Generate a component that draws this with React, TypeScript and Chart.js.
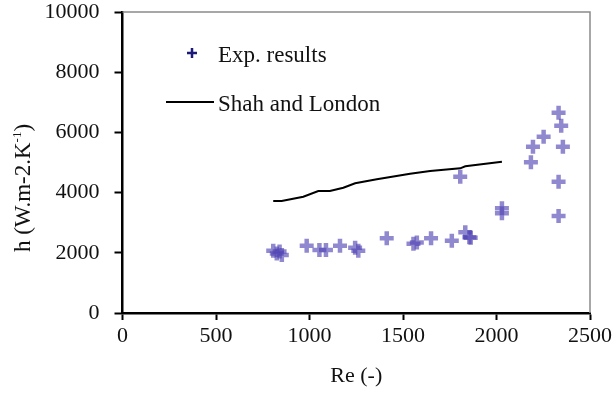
import React, { useEffect, useRef } from "react";
import { Chart, registerables } from "chart.js";

Chart.register(...registerables);

// Experimental results (Re, h)
const expRe = [806, 825, 840, 852, 985, 1053, 1088, 1163, 1244, 1261, 1413, 1556, 1574, 1650, 1761, 1806, 1833, 1855, 1862, 2029, 2029, 2184, 2195, 2252, 2332, 2346, 2355, 2332, 2332];
const expH = [2070, 1980, 2040, 1930, 2236, 2093, 2093, 2236, 2170, 2070, 2481, 2300, 2340, 2481, 2402, 4529, 2680, 2520, 2500, 3478, 3312, 5006, 5525, 5857, 6655, 6223, 5525, 4362, 3223];

// Shah and London correlation
const lineRe = [806, 851, 967, 1047, 1109, 1181, 1244, 1360, 1538, 1645, 1806, 1833, 2029];
const lineH = [3721, 3721, 3864, 4053, 4053, 4163, 4308, 4441, 4629, 4718, 4807, 4873, 5027];

const xTicks = [0, 500, 1000, 1500, 2000, 2500];
const yTicks = [0, 2000, 4000, 6000, 8000, 10000];

const seriesLabels = ["Exp. results", "Shah and London"];
const xTitle = "Re (-)";

const FONT = "'Liberation Serif', 'Times New Roman', serif";

export default function App() {
  const ref = useRef<HTMLCanvasElement | null>(null);

  useEffect(() => {
    if (!ref.current) return;

    const decor = {
      id: "decor",
      afterDraw(chart: any) {
        const { ctx, chartArea } = chart;
        const { left, right, top, bottom } = chartArea;
        ctx.save();
        // frame top/right
        ctx.strokeStyle = "#8a8a8a";
        ctx.lineWidth = 1.5;
        ctx.beginPath();
        ctx.moveTo(left, top);
        ctx.lineTo(right, top);
        ctx.lineTo(right, bottom);
        ctx.stroke();

        // legend
        ctx.fillStyle = "#111";
        ctx.font = `23px ${FONT}`;
        ctx.textBaseline = "middle";
        ctx.textAlign = "left";
        // plus marker
        ctx.strokeStyle = "#1c1a78";
        ctx.lineWidth = 2.5;
        ctx.beginPath();
        ctx.moveTo(187, 53);
        ctx.lineTo(197, 53);
        ctx.moveTo(192, 48);
        ctx.lineTo(192, 58);
        ctx.stroke();
        ctx.fillText(seriesLabels[0], 218, 56);
        // line marker
        ctx.strokeStyle = "#000";
        ctx.lineWidth = 2;
        ctx.beginPath();
        ctx.moveTo(166, 102);
        ctx.lineTo(214, 102);
        ctx.stroke();
        ctx.fillText(seriesLabels[1], 218, 105);

        // y title with superscript
        ctx.translate(23, 188);
        ctx.rotate(-Math.PI / 2);
        const main = "h (W.m-2.K";
        const sup = "-1";
        const end = ")";
        ctx.font = `23px ${FONT}`;
        const w1 = ctx.measureText(main).width;
        const w3 = ctx.measureText(end).width;
        ctx.font = `13px ${FONT}`;
        const w2 = ctx.measureText(sup).width;
        const total = w1 + w2 + w3;
        let x = -total / 2;
        ctx.fillStyle = "#111";
        ctx.font = `23px ${FONT}`;
        ctx.fillText(main, x, 1);
        x += w1;
        ctx.font = `13px ${FONT}`;
        ctx.fillText(sup, x, -5);
        x += w2;
        ctx.font = `23px ${FONT}`;
        ctx.fillText(end, x, 1);
        ctx.restore();
      },
    };

    const chart = new Chart(ref.current, {
      type: "scatter",
      data: {
        datasets: [
          {
            label: seriesLabels[0],
            data: expRe.map((r, i) => ({ x: r, y: expH[i] })),
            pointStyle: "cross",
            pointRadius: 7,
            pointBorderWidth: 4.5,
            borderColor: "rgba(78, 64, 178, 0.62)",
            backgroundColor: "rgba(78, 64, 178, 0.62)",
            showLine: false,
          },
          {
            label: seriesLabels[1],
            data: lineRe.map((r, i) => ({ x: r, y: lineH[i] })),
            showLine: true,
            borderColor: "#000",
            borderWidth: 2,
            pointRadius: 0,
            tension: 0,
          },
        ],
      },
      plugins: [decor],
      options: {
        animation: false,
        responsive: true,
        maintainAspectRatio: false,
        layout: { padding: { top: 12, right: 26, left: 0, bottom: 0 } },
        plugins: {
          legend: { display: false },
          tooltip: { enabled: false },
        },
        scales: {
          x: {
            type: "linear",
            min: 0,
            max: 2500,
            afterBuildTicks: (s: any) => {
              s.ticks = xTicks.map((v) => ({ value: v }));
            },
            afterFit: (s: any) => {
              s.height = 80;
              s.paddingLeft = 0;
              s.paddingRight = 0;
            },
            ticks: {
              color: "#111",
              font: { family: FONT, size: 22 },
              padding: 3,
              maxRotation: 0,
              autoSkip: false,
              callback: (v: any) => String(v),
            },
            grid: {
              drawOnChartArea: false,
              color: "#000",
              tickLength: 7,
              tickWidth: 2,
            },
            border: { color: "#000", width: 2.5 },
            title: {
              display: true,
              text: xTitle,
              color: "#111",
              font: { family: FONT, size: 22 },
              padding: { top: 0, bottom: 4 },
            },
          },
          y: {
            type: "linear",
            min: 0,
            max: 10000,
            afterBuildTicks: (s: any) => {
              s.ticks = yTicks.map((v) => ({ value: v }));
            },
            afterFit: (s: any) => {
              s.width = 122.5;
              s.paddingTop = 0;
              s.paddingBottom = 0;
            },
            ticks: {
              color: "#111",
              font: { family: FONT, size: 22 },
              padding: 15,
              autoSkip: false,
              callback: (v: any) => String(v),
            },
            grid: {
              drawOnChartArea: false,
              color: "#000",
              tickLength: 8,
              tickWidth: 2,
            },
            border: { color: "#000", width: 2.5 },
          },
        },
      },
    });
    return () => chart.destroy();
  }, []);

  return (
    <div style={{ position: "absolute", left: 0, top: 0, width: 616, height: 393, background: "#fff" }}>
      <canvas ref={ref} />
    </div>
  );
}
